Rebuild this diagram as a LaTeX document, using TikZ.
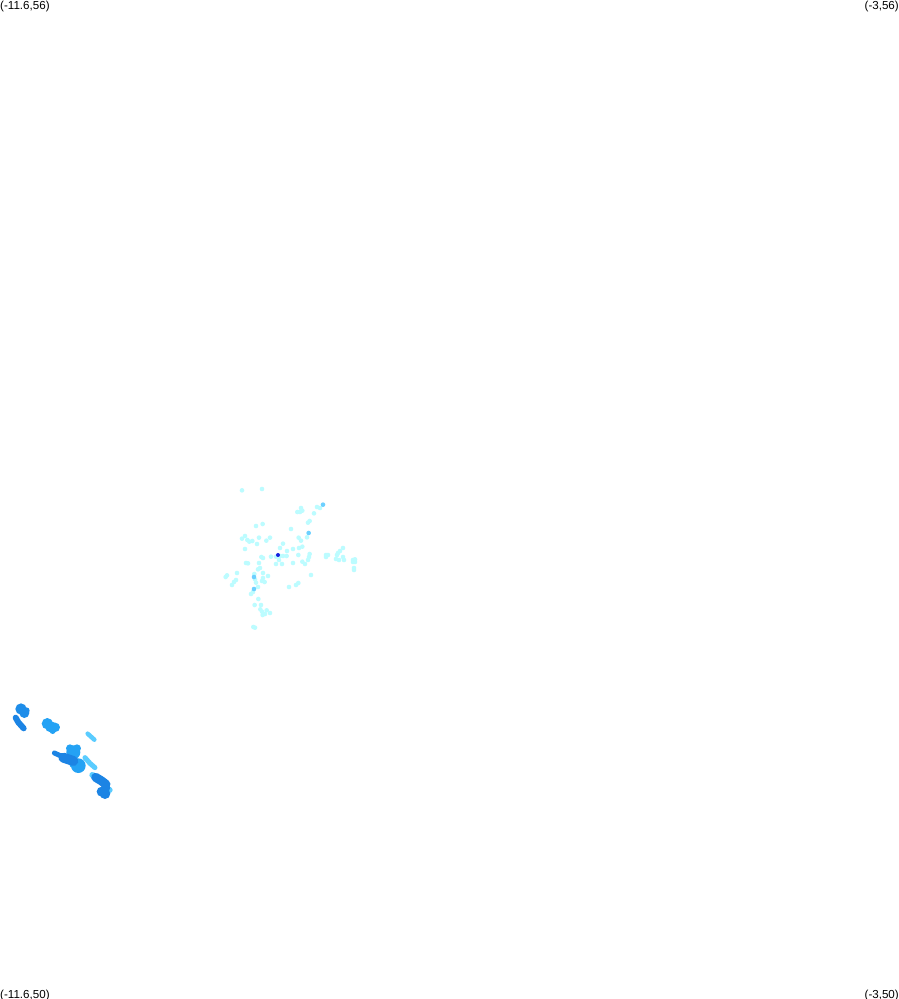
\documentclass[tikz,border=0pt]{standalone}
\usepackage{fontspec}
\setmainfont{Liberation Sans}
\definecolor{palecyan}{HTML}{BCFCFF}
\definecolor{midcyan}{HTML}{6CD0FF}
\definecolor{deepblue}{HTML}{1420E0}
\definecolor{skyblob}{HTML}{24A2F4}
\definecolor{lightblob}{HTML}{5ACCFF}
\definecolor{darkblob}{HTML}{1C84E4}
\tikzset{corner/.style={inner sep=0pt,font=\fontsize{11.6}{13}\selectfont},
  ridge/.style={line width=#1,line cap=round,line join=round}}
\begin{document}
\begin{tikzpicture}[x=1pt,y=-1pt]
      \useasboundingbox (0,0) rectangle (899,999);
      \fill [white] (0,0) rectangle (899,999);
      \node [corner,anchor=north west] (topleft) at (0,0.5) {(-11.6,56)};
      \node [corner,anchor=north east] (topright) at (899,0.5) {(-3,56)};
      \node [corner,anchor=north west] (bottomleft) at (0,989.5) {(-11.6,50)};
      \node [corner,anchor=north east] (bottomright) at (899,989.5) {(-3,50)};
      % sparse scatter
      \begin{scope}[shift={(215,480)},x=.3333pt,y=-.3333pt]
      \foreach \px/\py in {81/31,141/27,306/81,315/84,258/84,262/92,255/96,247/96,297/100,284/123,279/128,143/132,123/138,228/147,251/173,276/172,258/182,90/168,81/176,97/180,103/185,112/183,132/173,154/182,165/173,126/192,204/191,195/204,90/207,262/200,252/204,234/207,216/213,168/230,139/231,144/234,183/230,195/228,204/228,215/228,192/240,250/225,284/222,282/231,279/240,262/245,270/252,234/249,183/252,201/252,93/249,99/250,132/249,135/264,129/268,66/279,144/279,36/286,32/291,118/282,159/288,144/294,120/298,141/303,149/306,123/308,63/300,57/306,51/315,288/285,250/309,243/315,222/321,129/321,114/336,108/342,130/357,119/375,138/375,136/388,155/391,141/395,165/399,150/402,143/405,115/441,120/443,333/225,339/225,333/231,384/204,375/213,369/219,366/225,363/237,372/240,384/231,387/240,414/240,420/238,414/246,420/246,417/264,417/270}
        \fill [palecyan] (\px,\py) circle (2.3pt);
      \foreach \px/\py in {324/74,281/159,117/291,117/327}
        \fill [midcyan] (\px,\py) circle (2.3pt);
      \fill [deepblue] (189,225) circle (2pt);
      \end{scope}
      % dense clusters
      \begin{scope}[shift={(5,695)},x=.3333pt,y=-.3333pt]
      \draw [ridge=4.5pt,lightblob] (248,116) -- (268,134);
      \draw [ridge=5pt,lightblob] (240,188) -- (255,205) -- (270,218);
      \draw [ridge=6pt,lightblob] (262,240) -- (285,252);
      \fill [lightblob] (314,285) circle (3pt);
      \foreach \px/\py/\pr in {48/42/17,58/54/15,64/47/10}
        \fill [darkblob!70!skyblob] (\px,\py) circle (\pr*.3333pt);
      \draw [ridge=6pt,darkblob] (32,68) -- (40,82) -- (56,100);
      \foreach \px/\py/\pr in {127/86/17,137/95/17,151/97/14,143/108/9,205/172/21,195/160/12,216/160/12,220/212/22,207/205/15}
        \fill [skyblob] (\px,\py) circle (\pr*.3333pt);
      \draw [ridge=5pt,darkblob] (148,174) -- (175,186);
      \draw [ridge=10pt,darkblob] (175,188) -- (205,198);
      \draw [ridge=9pt,darkblob] (272,247) -- (290,258) -- (303,268);
      \foreach \px/\py/\pr in {290/290/15,300/296/16,302/278/14}
        \fill [darkblob] (\px,\py) circle (\pr*.3333pt);
      \end{scope}
\end{tikzpicture}
\end{document}
